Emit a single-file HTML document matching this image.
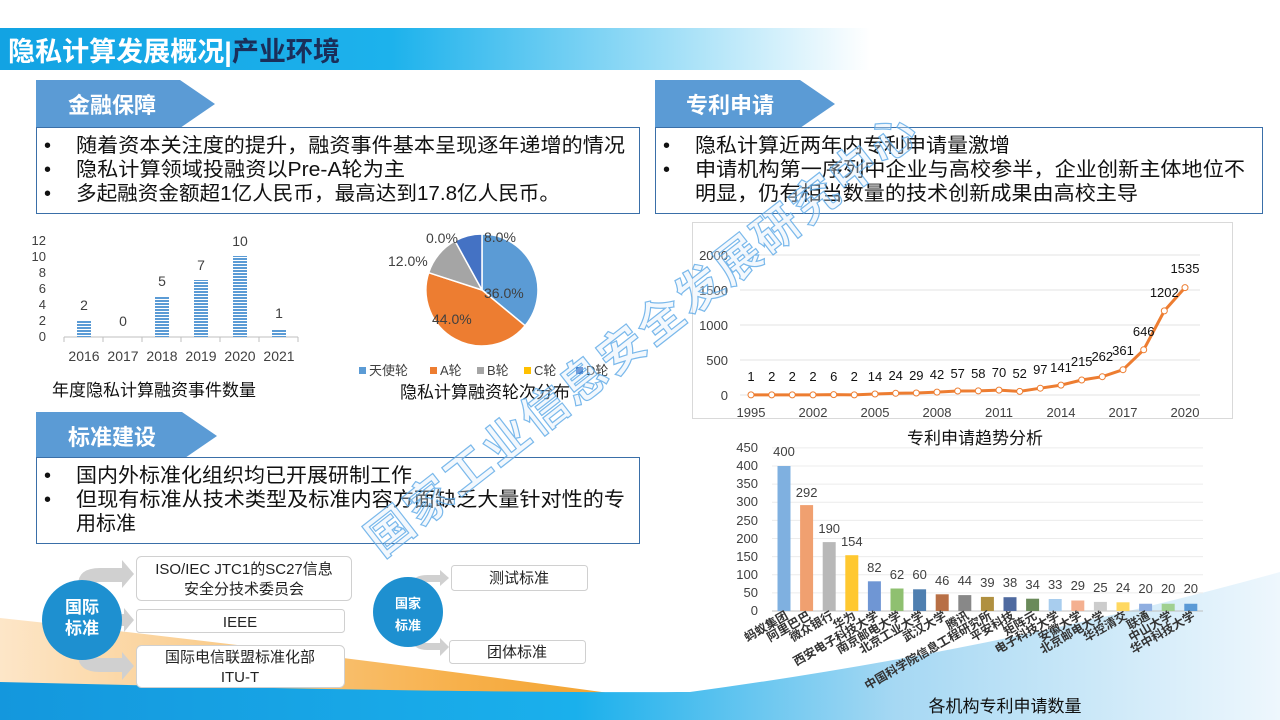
<!DOCTYPE html>
<html><head><meta charset="utf-8"><style>
html,body{margin:0;padding:0;background:#fff;}
svg{display:block;font-family:"Liberation Sans","Noto Sans CJK SC",sans-serif;}
</style></head><body>
<svg width="1280" height="720" viewBox="0 0 1280 720" xmlns="http://www.w3.org/2000/svg">
<defs>
<linearGradient id="hdr" x1="0" x2="1" y1="0" y2="0">
<stop offset="0" stop-color="#12a3e3"/><stop offset="0.45" stop-color="#1db2ec"/><stop offset="1" stop-color="#ffffff"/></linearGradient>
<linearGradient id="org" x1="0" x2="1" y1="0" y2="0">
<stop offset="0" stop-color="#fde6c8"/><stop offset="0.7" stop-color="#f7b04a"/><stop offset="1" stop-color="#f2a02a"/></linearGradient>
<linearGradient id="blu" x1="0" x2="1" y1="0" y2="0">
<stop offset="0" stop-color="#1497dd"/><stop offset="0.45" stop-color="#1ab0ec"/><stop offset="0.7" stop-color="#a6d8f3"/><stop offset="1" stop-color="#eef7fd"/></linearGradient>
<pattern id="stripe" width="4" height="3" patternUnits="userSpaceOnUse"><rect width="4" height="3" fill="#fff"/><rect width="4" height="2" fill="#5b9bd5"/></pattern>
</defs>

<path d="M0,618 Q300,650 660,700 L660,720 L0,720 Z" fill="url(#org)"/>
<path d="M0,682 C250,688 500,693 690,692 Q1000,650 1280,572 L1280,720 L0,720 Z" fill="url(#blu)"/>

<rect x="0" y="28" width="870" height="42" fill="url(#hdr)"/>
<text x="8" y="61" font-size="27" font-weight="bold" fill="#fff" textLength="332" lengthAdjust="spacingAndGlyphs">隐私计算发展概况|<tspan fill="#1a2f5a">产业环境</tspan></text>

<path d="M36,80 L180,80 L215,104 L180,128 L36,128 Z" fill="#5b9bd5"/>
<text x="68" y="113" font-size="22" font-weight="bold" fill="#fff">金融保障</text>
<path d="M655,80 L800,80 L835,104 L800,128 L655,128 Z" fill="#5b9bd5"/>
<text x="686" y="113" font-size="22" font-weight="bold" fill="#fff">专利申请</text>
<path d="M36,412 L182,412 L217,436 L182,460 L36,460 Z" fill="#5b9bd5"/>
<text x="68" y="445" font-size="22" font-weight="bold" fill="#fff">标准建设</text>

<rect x="36.5" y="127.5" width="603" height="86" fill="#fff" stroke="#3a6fa8"/>
<g font-size="20" fill="#111">
<text x="44" y="152">•</text><text x="76" y="152" textLength="549" lengthAdjust="spacingAndGlyphs">随着资本关注度的提升，融资事件基本呈现逐年递增的情况</text>
<text x="44" y="176">•</text><text x="76" y="176" textLength="329" lengthAdjust="spacingAndGlyphs">隐私计算领域投融资以Pre-A轮为主</text>
<text x="44" y="200">•</text><text x="76" y="200" textLength="484" lengthAdjust="spacingAndGlyphs">多起融资金额超1亿人民币，最高达到17.8亿人民币。</text>
</g>
<rect x="655.5" y="127.5" width="607" height="86" fill="#fff" stroke="#3a6fa8"/>
<g font-size="20" fill="#111">
<text x="663" y="152">•</text><text x="695" y="152" textLength="315" lengthAdjust="spacingAndGlyphs">隐私计算近两年内专利申请量激增</text>
<text x="663" y="176">•</text><text x="695" y="176" textLength="550" lengthAdjust="spacingAndGlyphs">申请机构第一序列中企业与高校参半，企业创新主体地位不</text>
<text x="695" y="200" textLength="443" lengthAdjust="spacingAndGlyphs">明显，仍有相当数量的技术创新成果由高校主导</text>
</g>
<rect x="36.5" y="457.5" width="603" height="86" fill="#fff" stroke="#3a6fa8"/>
<g font-size="20" fill="#111">
<text x="44" y="482">•</text><text x="76" y="482" textLength="336" lengthAdjust="spacingAndGlyphs">国内外标准化组织均已开展研制工作</text>
<text x="44" y="506">•</text><text x="76" y="506" textLength="549" lengthAdjust="spacingAndGlyphs">但现有标准从技术类型及标准内容方面缺乏大量针对性的专</text>
<text x="76" y="530">用标准</text>
</g>

<g font-size="13" fill="#404040">
<text x="46" y="245" text-anchor="end">12</text>
<text x="46" y="261" text-anchor="end">10</text>
<text x="46" y="277" text-anchor="end">8</text>
<text x="46" y="293" text-anchor="end">6</text>
<text x="46" y="309" text-anchor="end">4</text>
<text x="46" y="325" text-anchor="end">2</text>
<text x="46" y="341" text-anchor="end">0</text>
</g>
<line x1="64" y1="337" x2="298" y2="337" stroke="#bfbfbf"/>
<g stroke="#bfbfbf"><line x1="64" y1="337" x2="64" y2="342"/><line x1="103" y1="337" x2="103" y2="342"/><line x1="142" y1="337" x2="142" y2="342"/><line x1="181" y1="337" x2="181" y2="342"/><line x1="220" y1="337" x2="220" y2="342"/><line x1="259" y1="337" x2="259" y2="342"/><line x1="298" y1="337" x2="298" y2="342"/></g>
<g fill="url(#stripe)">
<rect x="77" y="321" width="14" height="16"/>
<rect x="155" y="296" width="14" height="41"/>
<rect x="194" y="280" width="14" height="57"/>
<rect x="233" y="256" width="14" height="81"/>
<rect x="272" y="329" width="14" height="8"/>
</g>
<g font-size="14" fill="#404040" text-anchor="middle">
<text x="84" y="310">2</text><text x="123" y="326">0</text><text x="162" y="286">5</text><text x="201" y="270">7</text><text x="240" y="246">10</text><text x="279" y="318">1</text>
<text x="84" y="361">2016</text><text x="123" y="361">2017</text><text x="162" y="361">2018</text><text x="201" y="361">2019</text><text x="240" y="361">2020</text><text x="279" y="361">2021</text>
</g>
<text x="52" y="396" font-size="17" fill="#111">年度隐私计算融资事件数量</text>

<g stroke="#fff" stroke-width="1.5">
<path d="M482,290 L482,234 A56,56 0 0 1 525.1,325.7 Z" fill="#5b9bd5"/>
<path d="M482,290 L525.1,325.7 A56,56 0 0 1 428.7,272.7 Z" fill="#ed7d31"/>
<path d="M482,290 L428.7,272.7 A56,56 0 0 1 455,240.9 Z" fill="#a5a5a5"/>
<path d="M482,290 L455,240.9 A56,56 0 0 1 482,234 Z" fill="#4472c4"/>
</g>
<g font-size="14" fill="#404040">
<text x="484" y="298">36.0%</text>
<text x="432" y="324">44.0%</text>
<text x="388" y="266">12.0%</text>
<text x="426" y="243">0.0%</text>
<text x="484" y="242">8.0%</text>
</g>
<g font-size="13" fill="#404040">
<rect x="359" y="367" width="7" height="7" fill="#5b9bd5"/><text x="369" y="375">天使轮</text>
<rect x="430" y="367" width="7" height="7" fill="#ed7d31"/><text x="440" y="375">A轮</text>
<rect x="477" y="367" width="7" height="7" fill="#a5a5a5"/><text x="487" y="375">B轮</text>
<rect x="524" y="367" width="7" height="7" fill="#ffc000"/><text x="534" y="375">C轮</text>
<rect x="576" y="367" width="7" height="7" fill="#4472c4"/><text x="586" y="375">D轮</text>
</g>
<text x="400" y="398" font-size="17" fill="#111">隐私计算融资轮次分布</text>

<rect x="692.5" y="222.5" width="540" height="196" fill="#fff" stroke="#d9d9d9"/>
<g stroke="#e3e3e3"><line x1="740" y1="255" x2="1200" y2="255"/><line x1="740" y1="290" x2="1200" y2="290"/><line x1="740" y1="325" x2="1200" y2="325"/><line x1="740" y1="360" x2="1200" y2="360"/><line x1="740" y1="395" x2="1200" y2="395"/></g>
<g font-size="13" fill="#404040" text-anchor="end">
<text x="728" y="260">2000</text><text x="728" y="295">1500</text><text x="728" y="330">1000</text><text x="728" y="365">500</text><text x="728" y="400">0</text>
</g>
<polyline fill="none" stroke="#ed7d31" stroke-width="3" points="751,394.9 771.7,394.9 792.3,394.9 813,394.9 833.7,394.6 854.3,394.9 875,394 895.7,393.3 916.3,393 937,392.1 957.7,391 978.3,390.9 999,390.1 1019.7,391.4 1040.3,388.2 1061,385.1 1081.7,380 1102.3,376.7 1123,369.7 1143.7,349.8 1164.3,310.9 1185,287.6"/>
<g fill="#fff" stroke="#ed7d31" stroke-width="1">
<circle cx="751" cy="394.9" r="3"/><circle cx="771.7" cy="394.9" r="3"/><circle cx="792.3" cy="394.9" r="3"/><circle cx="813" cy="394.9" r="3"/><circle cx="833.7" cy="394.6" r="3"/><circle cx="854.3" cy="394.9" r="3"/><circle cx="875" cy="394" r="3"/><circle cx="895.7" cy="393.3" r="3"/><circle cx="916.3" cy="393" r="3"/><circle cx="937" cy="392.1" r="3"/><circle cx="957.7" cy="391" r="3"/><circle cx="978.3" cy="390.9" r="3"/><circle cx="999" cy="390.1" r="3"/><circle cx="1019.7" cy="391.4" r="3"/><circle cx="1040.3" cy="388.2" r="3"/><circle cx="1061" cy="385.1" r="3"/><circle cx="1081.7" cy="380" r="3"/><circle cx="1102.3" cy="376.7" r="3"/><circle cx="1123" cy="369.7" r="3"/><circle cx="1143.7" cy="349.8" r="3"/><circle cx="1164.3" cy="310.9" r="3"/><circle cx="1185" cy="287.6" r="3"/>
</g>
<g font-size="13" fill="#111" text-anchor="middle">
<text x="751" y="381">1</text><text x="771.7" y="381">2</text><text x="792.3" y="381">2</text><text x="813" y="381">2</text><text x="833.7" y="381">6</text><text x="854.3" y="381">2</text><text x="875" y="381">14</text><text x="895.7" y="380">24</text><text x="916.3" y="380">29</text><text x="937" y="379">42</text><text x="957.7" y="378">57</text><text x="978.3" y="378">58</text><text x="999" y="377">70</text><text x="1019.7" y="378">52</text><text x="1040.3" y="374">97</text><text x="1061" y="372">141</text><text x="1081.7" y="366">215</text><text x="1102.3" y="361">262</text><text x="1123" y="355">361</text><text x="1143.7" y="336">646</text><text x="1164.3" y="297">1202</text><text x="1185" y="273">1535</text>
</g>
<g font-size="13" fill="#404040" text-anchor="middle">
<text x="751" y="417">1995</text><text x="813" y="417">2002</text><text x="875" y="417">2005</text><text x="937" y="417">2008</text><text x="999" y="417">2011</text><text x="1061" y="417">2014</text><text x="1123" y="417">2017</text><text x="1185" y="417">2020</text>
</g>
<text x="975" y="444" font-size="17" fill="#111" text-anchor="middle">专利申请趋势分析</text>

<g stroke="#ececec">
<line x1="772" y1="447.9" x2="1203" y2="447.9"/><line x1="772" y1="466" x2="1203" y2="466"/><line x1="772" y1="484.1" x2="1203" y2="484.1"/><line x1="772" y1="502.3" x2="1203" y2="502.3"/><line x1="772" y1="520.4" x2="1203" y2="520.4"/><line x1="772" y1="538.5" x2="1203" y2="538.5"/><line x1="772" y1="556.6" x2="1203" y2="556.6"/><line x1="772" y1="574.8" x2="1203" y2="574.8"/><line x1="772" y1="592.9" x2="1203" y2="592.9"/>
</g>
<line x1="772" y1="611" x2="1203" y2="611" stroke="#bfbfbf"/>
<g font-size="13" fill="#404040" text-anchor="end">
<text x="758" y="452">450</text><text x="758" y="470">400</text><text x="758" y="488">350</text><text x="758" y="506">300</text><text x="758" y="525">250</text><text x="758" y="543">200</text><text x="758" y="561">150</text><text x="758" y="579">100</text><text x="758" y="597">50</text><text x="758" y="615">0</text>
</g>
<g>
<rect x="777.5" y="466" width="13" height="145" fill="#7fb0e0"/>
<rect x="800.1" y="505.1" width="13" height="105.9" fill="#f0a070"/>
<rect x="822.7" y="542.1" width="13" height="68.9" fill="#b8b8b8"/>
<rect x="845.3" y="555.2" width="13" height="55.8" fill="#ffc830"/>
<rect x="867.9" y="581.3" width="13" height="29.7" fill="#6f96d4"/>
<rect x="890.5" y="588.5" width="13" height="22.5" fill="#8fc070"/>
<rect x="913.1" y="589.3" width="13" height="21.7" fill="#4f7fb0"/>
<rect x="935.7" y="594.3" width="13" height="16.7" fill="#b86f45"/>
<rect x="958.3" y="595.1" width="13" height="15.9" fill="#888888"/>
<rect x="980.9" y="596.9" width="13" height="14.1" fill="#b09040"/>
<rect x="1003.5" y="597.2" width="13" height="13.8" fill="#4f6aa0"/>
<rect x="1026.1" y="598.7" width="13" height="12.3" fill="#6a8a5a"/>
<rect x="1048.7" y="599" width="13" height="12" fill="#a8cdee"/>
<rect x="1071.3" y="600.5" width="13" height="10.5" fill="#f4b090"/>
<rect x="1093.9" y="601.9" width="13" height="9.1" fill="#cccccc"/>
<rect x="1116.5" y="602.3" width="13" height="8.7" fill="#ffd860"/>
<rect x="1139.1" y="603.75" width="13" height="7.25" fill="#8faee0"/>
<rect x="1161.7" y="603.75" width="13" height="7.25" fill="#a0d090"/>
<rect x="1184.3" y="603.75" width="13" height="7.25" fill="#5a9ad6"/>
</g>
<g font-size="13" fill="#404040" text-anchor="middle">
<text x="784" y="456">400</text><text x="806.6" y="497">292</text><text x="829.2" y="533">190</text><text x="851.8" y="546">154</text><text x="874.4" y="572">82</text><text x="897" y="579">62</text><text x="919.6" y="579">60</text><text x="942.2" y="585">46</text><text x="964.8" y="585">44</text><text x="987.4" y="587">39</text><text x="1010" y="587">38</text><text x="1032.6" y="589">34</text><text x="1055.2" y="589">33</text><text x="1077.8" y="590">29</text><text x="1100.4" y="592">25</text><text x="1123" y="592">24</text><text x="1145.6" y="593">20</text><text x="1168.2" y="593">20</text><text x="1190.8" y="593">20</text>
</g>
<g font-size="12" font-weight="bold" fill="#333" text-anchor="end">
<text transform="translate(789,618) rotate(-30)">蚂蚁集团</text>
<text transform="translate(811.6,618) rotate(-30)">阿里巴巴</text>
<text transform="translate(834.2,618) rotate(-30)">微众银行</text>
<text transform="translate(856.8,618) rotate(-30)">华为</text>
<text transform="translate(879.4,618) rotate(-30)">西安电子科技大学</text>
<text transform="translate(902,618) rotate(-30)">南京邮电大学</text>
<text transform="translate(924.6,618) rotate(-30)">北京工业大学</text>
<text transform="translate(947.2,618) rotate(-30)">武汉大学</text>
<text transform="translate(969.8,618) rotate(-30)">腾讯</text>
<text transform="translate(992.4,618) rotate(-30)">中国科学院信息工程研究所</text>
<text transform="translate(1015,618) rotate(-30)">平安科技</text>
<text transform="translate(1037.6,618) rotate(-30)">矩阵元</text>
<text transform="translate(1060.2,618) rotate(-30)">电子科技大学</text>
<text transform="translate(1082.8,618) rotate(-30)">安徽大学</text>
<text transform="translate(1105.4,618) rotate(-30)">北京邮电大学</text>
<text transform="translate(1128,618) rotate(-30)">华控清交</text>
<text transform="translate(1150.6,618) rotate(-30)">联通</text>
<text transform="translate(1173.2,618) rotate(-30)">中山大学</text>
<text transform="translate(1195.8,618) rotate(-30)">华中科技大学</text>
</g>
<text x="1005" y="712" font-size="17" fill="#111" text-anchor="middle">各机构专利申请数量</text>

<g fill="#d0d0d0">
<path d="M78,585 Q78,568 100,568 L122,568 L122,560 L134,574 L122,588 L122,582 L100,582 Q92,582 92,590 Z"/>
<path d="M112,614 L124,614 L124,608 L134,620 L124,632 L124,626 L112,626 Z"/>
<path d="M78,655 Q78,672 100,672 L122,672 L122,680 L134,666 L122,652 L122,658 L100,658 Q92,658 92,650 Z"/>
<path d="M412,585 Q412,575 428,575 L440,575 L440,570 L449,578 L440,586 L440,582 L428,582 Q420,582 420,588 Z"/>
<path d="M412,638 Q412,650 428,650 L440,650 L440,656 L449,647 L440,638 L440,643 L428,643 Q420,643 420,636 Z"/>
</g>
<circle cx="82" cy="620" r="40" fill="#1e90d0"/>
<text x="82" y="613" font-size="17" font-weight="bold" fill="#fff" text-anchor="middle">国际</text>
<text x="82" y="634" font-size="17" font-weight="bold" fill="#fff" text-anchor="middle">标准</text>
<circle cx="408" cy="612" r="35" fill="#1e90d0"/>
<text x="408" y="608" font-size="13" font-weight="bold" fill="#fff" text-anchor="middle">国家</text>
<text x="408" y="630" font-size="13" font-weight="bold" fill="#fff" text-anchor="middle">标准</text>
<g fill="#fff" stroke="#d0d0d0">
<rect x="136.5" y="556.5" width="215" height="44" rx="5"/>
<rect x="136.5" y="609.5" width="208" height="23" rx="3"/>
<rect x="136.5" y="645.5" width="208" height="42" rx="5"/>
<rect x="451.5" y="565.5" width="136" height="25" rx="3"/>
<rect x="449.5" y="640.5" width="136" height="23" rx="3"/>
</g>
<g font-size="15" fill="#222" text-anchor="middle">
<text x="244" y="574">ISO/IEC JTC1的SC27信息</text>
<text x="244" y="594">安全分技术委员会</text>
<text x="240" y="627">IEEE</text>
<text x="240" y="662">国际电信联盟标准化部</text>
<text x="240" y="682">ITU-T</text>
<text x="519" y="583">测试标准</text>
<text x="517" y="657">团体标准</text>
</g>

<text transform="translate(382,558) rotate(-38)" font-size="46" font-weight="bold" letter-spacing="3" fill="#dcecfa" fill-opacity="0.35" stroke="#5aa8e6" stroke-width="1.2" stroke-opacity="0.8">国家工业信息安全发展研究中心</text>
</svg>
</body></html>
